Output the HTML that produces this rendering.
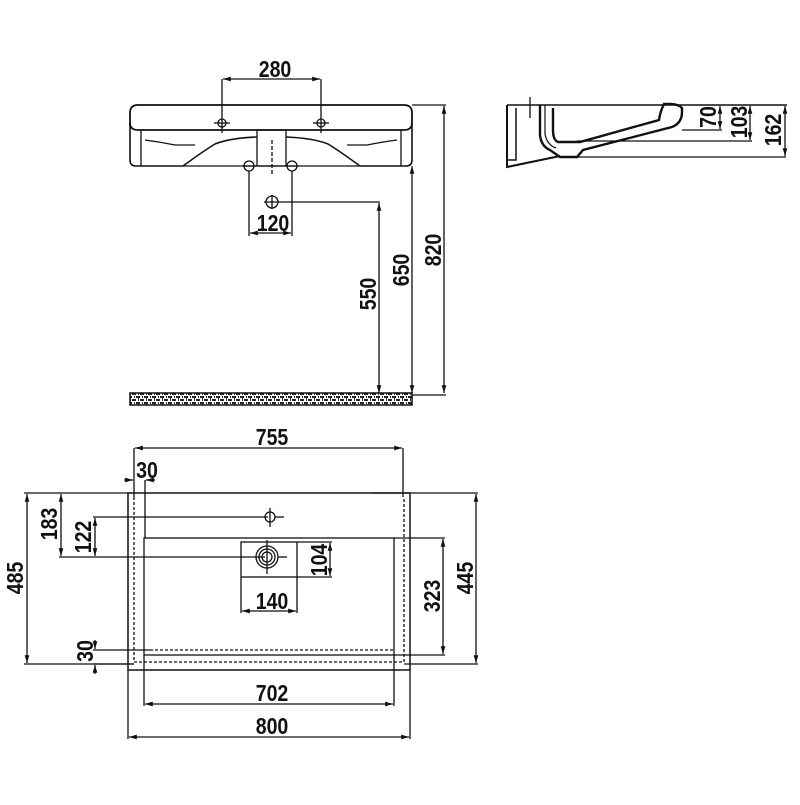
<!DOCTYPE html>
<html><head><meta charset="utf-8"><style>
html,body{margin:0;padding:0;background:#fff;}
svg text{font-family:"Liberation Sans Narrow","Liberation Sans",sans-serif;font-weight:bold;font-size:23px;fill:#111;}
</style></head><body>
<svg width="800" height="800" viewBox="0 0 800 800" xmlns="http://www.w3.org/2000/svg">
<defs>
<marker id="a" viewBox="0 0 10 10" refX="10" refY="5" markerWidth="6" markerHeight="6" orient="auto-start-reverse"><path d="M0,2 L10,5 L0,8 z" fill="#111"/></marker>
<pattern id="hatch" width="8" height="6" patternUnits="userSpaceOnUse"><rect width="8" height="6" fill="#fff"/><rect x="0" y="0" width="4" height="2" fill="#222"/><rect x="4" y="3" width="4" height="2" fill="#222"/><rect x="2" y="2" width="1" height="3" fill="#333"/><rect x="6" y="0" width="1" height="2" fill="#333"/></pattern>
</defs>
<g stroke="#111" fill="none" stroke-width="1.3">
<path d="M138,105 H404 Q412,105 412,113 V123 Q412,130 404,130 H138 Q130,130 130,123 V113 Q130,105 138,105 Z" stroke-width="1.8"/>
<path d="M130,123 V160 Q130,166 136,166 H183 Q205,150 215,144 Q230,138 257,137" stroke-width="1.6"/>
<path d="M412,123 V160 Q412,166 406,166 H360 Q338,150 328,144 Q313,138 286,137" stroke-width="1.6"/>
<line x1="141" y1="130" x2="141" y2="166"/><line x1="401" y1="130" x2="401" y2="166"/>
<path d="M145,140 Q160,142 175,145 H195"/><path d="M397,140 Q382,142 367,145 H347"/>
<line x1="183" y1="166" x2="360" y2="166"/>
<rect x="257" y="130" width="29" height="36"/>
<line x1="272" y1="140" x2="272" y2="175" stroke-dasharray="4,2"/>
<circle cx="222" cy="123" r="4"/><circle cx="321" cy="123" r="4"/>
<line x1="214" y1="123" x2="230" y2="123"/><line x1="313" y1="123" x2="329" y2="123"/>
<circle cx="249" cy="166" r="5"/><circle cx="292" cy="166" r="5"/>
<line x1="242" y1="166" x2="256" y2="166"/><line x1="285" y1="166" x2="299" y2="166"/>
<line x1="222" y1="79" x2="222" y2="133"/><line x1="321" y1="79" x2="321" y2="133"/>
<line x1="223" y1="79" x2="320" y2="79" marker-start="url(#a)" marker-end="url(#a)"/>
<line x1="249" y1="171" x2="249" y2="236"/><line x1="292" y1="171" x2="292" y2="236"/>
<line x1="250" y1="233" x2="291" y2="233" marker-start="url(#a)" marker-end="url(#a)"/>
<circle cx="272" cy="202" r="6"/><line x1="264" y1="202" x2="380" y2="202"/><line x1="272" y1="195" x2="272" y2="209"/>
<line x1="379" y1="203" x2="379" y2="393" marker-start="url(#a)" marker-end="url(#a)"/>
<line x1="412" y1="166" x2="412" y2="393" marker-start="url(#a)" marker-end="url(#a)"/>
<line x1="412" y1="105" x2="446" y2="105"/>
<line x1="444" y1="106" x2="444" y2="393" marker-start="url(#a)" marker-end="url(#a)"/>
<line x1="412" y1="395" x2="446" y2="395"/>
<rect x="130" y="393" width="282" height="12" fill="url(#hatch)" stroke-width="1.5"/>

<line x1="507" y1="105" x2="787" y2="105" stroke-width="1.5"/>
<path d="M507,105 V167 L560,156" stroke-width="2"/>
<path d="M516,108 V160 H507" stroke-width="1.5"/>
<line x1="530" y1="97" x2="530" y2="118"/>
<path d="M540,105 V135 Q541,146 550,150 L560,157 H577 L583,150 L672,127 Q682,123 682,112 V108 Q678,104 670,104 H664 Q660,112 659,120 L580,142 H558 Q553,140 553,130 V108" stroke-width="2.4"/>
<path d="M545,105 V134 Q547,145 556,148" stroke-width="1.2"/>
<line x1="560" y1="157" x2="786" y2="157"/>
<line x1="577" y1="141" x2="752" y2="141"/>
<line x1="682" y1="130" x2="722" y2="130"/>
<line x1="720" y1="106" x2="720" y2="129" marker-start="url(#a)" marker-end="url(#a)"/>
<line x1="750" y1="106" x2="750" y2="140" marker-start="url(#a)" marker-end="url(#a)"/>
<line x1="785" y1="106" x2="785" y2="156" marker-start="url(#a)" marker-end="url(#a)"/>

<rect x="128" y="493" width="282" height="177" stroke-width="1.5"/>
<path d="M134,497 V662 H404 V497" stroke-dasharray="3,2"/>
<rect x="144" y="538" width="250" height="117"/>
<line x1="150" y1="650" x2="394" y2="650" stroke-dasharray="3,2"/>
<line x1="134" y1="448" x2="134" y2="497"/><line x1="403" y1="448" x2="403" y2="497"/>
<line x1="135" y1="448" x2="402" y2="448" marker-start="url(#a)" marker-end="url(#a)"/>
<line x1="145" y1="480" x2="145" y2="538"/>
<line x1="124" y1="480" x2="133" y2="480" marker-end="url(#a)"/>
<line x1="155" y1="480" x2="146" y2="480" marker-end="url(#a)"/>
<line x1="24" y1="493" x2="128" y2="493"/><line x1="24" y1="664" x2="134" y2="664"/>
<line x1="27" y1="494" x2="27" y2="663" marker-start="url(#a)" marker-end="url(#a)"/>
<line x1="61" y1="494" x2="61" y2="556" marker-start="url(#a)" marker-end="url(#a)"/>
<line x1="95" y1="518" x2="95" y2="556" marker-start="url(#a)" marker-end="url(#a)"/>
<line x1="93" y1="517" x2="268" y2="517"/>
<line x1="59" y1="557" x2="265" y2="557"/>
<circle cx="270" cy="517" r="5"/><line x1="270" y1="508" x2="270" y2="527"/><line x1="275" y1="517" x2="284" y2="517"/>
<rect x="241" y="542" width="56" height="35"/>
<circle cx="267" cy="557" r="11"/><circle cx="267" cy="557" r="8"/><circle cx="267" cy="557" r="5"/>
<line x1="267" y1="540" x2="267" y2="574"/><line x1="278" y1="557" x2="287" y2="557"/>
<line x1="297" y1="542" x2="332" y2="542"/><line x1="297" y1="577" x2="332" y2="577"/>
<line x1="330" y1="543" x2="330" y2="576" marker-start="url(#a)" marker-end="url(#a)"/>
<line x1="241" y1="577" x2="241" y2="613"/><line x1="297" y1="577" x2="297" y2="613"/>
<line x1="242" y1="611" x2="296" y2="611" marker-start="url(#a)" marker-end="url(#a)"/>
<line x1="394" y1="538" x2="445" y2="538"/><line x1="394" y1="655" x2="445" y2="655"/>
<line x1="443" y1="539" x2="443" y2="654" marker-start="url(#a)" marker-end="url(#a)"/>
<line x1="373" y1="493" x2="478" y2="493"/><line x1="404" y1="664" x2="478" y2="664"/>
<line x1="476" y1="494" x2="476" y2="663" marker-start="url(#a)" marker-end="url(#a)"/>
<line x1="93" y1="650" x2="150" y2="650"/><line x1="93" y1="664" x2="134" y2="664"/>
<line x1="95" y1="640" x2="95" y2="649" marker-end="url(#a)"/>
<line x1="95" y1="674" x2="95" y2="665" marker-end="url(#a)"/>
<line x1="144" y1="655" x2="144" y2="706"/><line x1="394" y1="655" x2="394" y2="706"/>
<line x1="145" y1="704" x2="393" y2="704" marker-start="url(#a)" marker-end="url(#a)"/>
<line x1="128" y1="670" x2="128" y2="739"/><line x1="410" y1="670" x2="410" y2="739"/>
<line x1="129" y1="737" x2="409" y2="737" marker-start="url(#a)" marker-end="url(#a)"/>
</g>
<g text-anchor="middle">
<text transform="translate(275,77) scale(0.85,1)">280</text>
<text transform="translate(273,231) scale(0.85,1)">120</text>
<text transform="translate(376,294) rotate(-90) scale(0.85,1)">550</text>
<text transform="translate(409,270) rotate(-90) scale(0.85,1)">650</text>
<text transform="translate(441,250) rotate(-90) scale(0.85,1)">820</text>
<text transform="translate(716,117) rotate(-90) scale(0.85,1)">70</text>
<text transform="translate(747,122) rotate(-90) scale(0.85,1)">103</text>
<text transform="translate(781,130) rotate(-90) scale(0.85,1)">162</text>
<text transform="translate(272,445) scale(0.85,1)">755</text>
<text transform="translate(147,478) scale(0.85,1)">30</text>
<text transform="translate(23,578) rotate(-90) scale(0.85,1)">485</text>
<text transform="translate(57,524) rotate(-90) scale(0.85,1)">183</text>
<text transform="translate(91,537) rotate(-90) scale(0.85,1)">122</text>
<text transform="translate(327,560) rotate(-90) scale(0.85,1)">104</text>
<text transform="translate(272,609) scale(0.85,1)">140</text>
<text transform="translate(440,596) rotate(-90) scale(0.85,1)">323</text>
<text transform="translate(473,578) rotate(-90) scale(0.85,1)">445</text>
<text transform="translate(93,651) rotate(-90) scale(0.85,1)">30</text>
<text transform="translate(272,701) scale(0.85,1)">702</text>
<text transform="translate(272,734) scale(0.85,1)">800</text>
</g>
</svg>
</body></html>
